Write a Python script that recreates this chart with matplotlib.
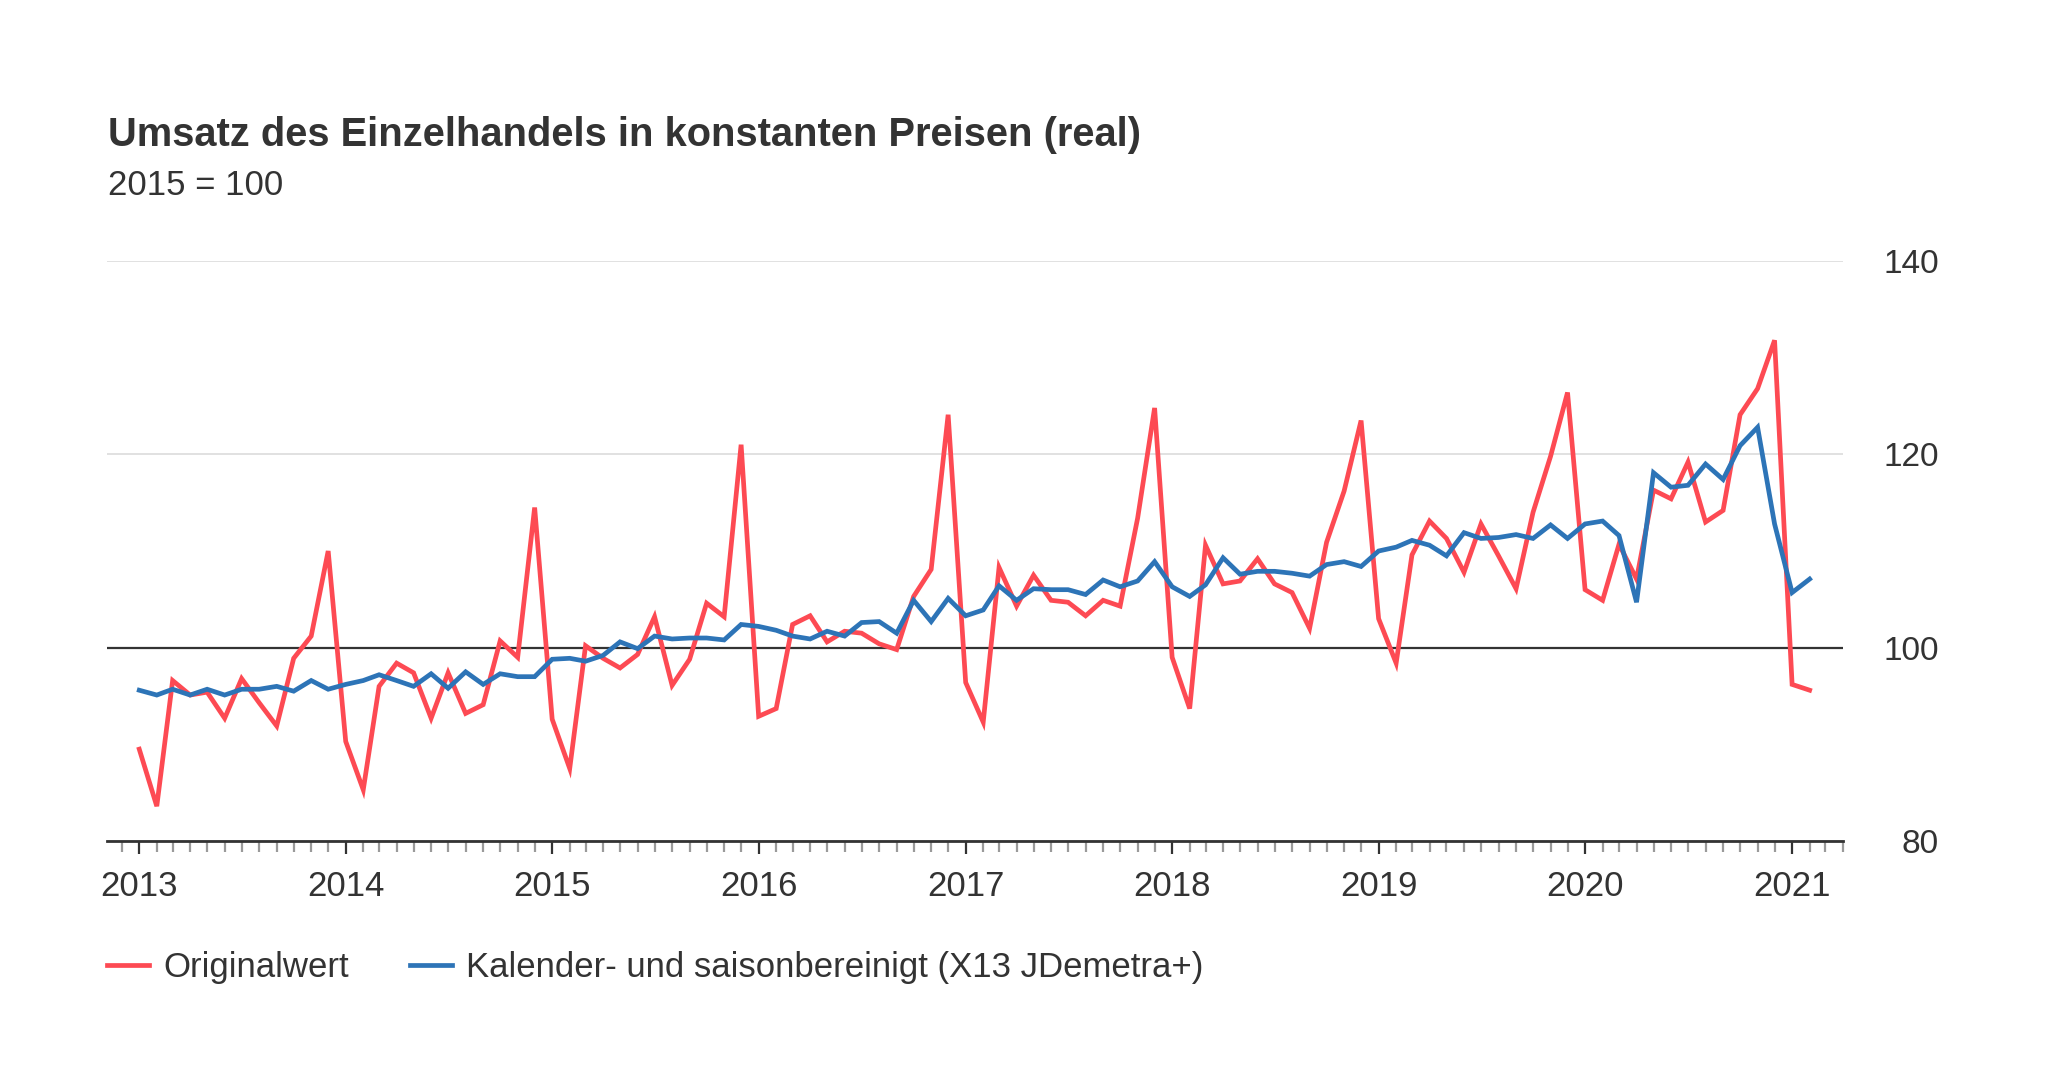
import numpy as np
import pandas as pd
import matplotlib
matplotlib.use('Agg')
import matplotlib.pyplot as plt
import matplotlib.dates as mdates

plt.rcParams['font.family'] = ['Liberation Sans', 'DejaVu Sans']

# monthly values, Jan 2013 - Feb 2021 (2015 = 100)
months = pd.date_range('2013-01-01', '2021-02-01', freq='MS')

original = [
    89.5, 83.6, 96.6, 95.1, 95.4, 92.7, 96.8, 94.3, 91.9, 98.9, 101.2, 110.0,
    90.3, 85.3, 96.0, 98.4, 97.4, 92.7, 97.4, 93.2, 94.1, 100.7, 99.0, 114.5,
    92.6, 87.5, 100.2, 98.9, 97.9, 99.3, 103.2, 96.1, 98.8, 104.6, 103.2, 121.0,
    92.9, 93.7, 102.4, 103.3, 100.6, 101.7, 101.5, 100.4, 99.8, 105.3, 108.1, 124.1,
    96.4, 92.3, 108.3, 104.3, 107.5, 104.9, 104.7, 103.3, 104.9, 104.3, 113.4, 124.8,
    99.0, 93.7, 110.6, 106.6, 106.9, 109.2, 106.6, 105.7, 102.0, 110.9, 116.2, 123.5,
    103.0, 98.4, 109.6, 113.1, 111.3, 107.8, 112.8, 109.5, 106.1, 114.0, 119.8, 126.4,
    106.0, 104.9, 110.7, 107.1, 116.3, 115.4, 119.2, 113.0, 114.2, 124.1, 126.8, 131.8,
    96.2, 95.6,
]

adjusted = [
    95.6, 95.1, 95.7, 95.1, 95.7, 95.1, 95.7, 95.7, 96.0, 95.5, 96.6, 95.7,
    96.2, 96.6, 97.2, 96.6, 96.0, 97.3, 95.8, 97.5, 96.2, 97.3, 97.0, 97.0,
    98.8, 98.9, 98.6, 99.2, 100.6, 99.9, 101.2, 100.9, 101.0, 101.0, 100.8, 102.4,
    102.2, 101.8, 101.2, 100.9, 101.7, 101.2, 102.6, 102.7, 101.5, 104.9, 102.7, 105.1,
    103.3, 103.9, 106.4, 104.9, 106.1, 106.0, 106.0, 105.5, 107.0, 106.3, 106.9, 108.9,
    106.3, 105.3, 106.5, 109.3, 107.6, 107.9, 107.9, 107.7, 107.4, 108.6, 108.9, 108.4,
    110.0, 110.4, 111.1, 110.6, 109.5, 111.9, 111.3, 111.4, 111.7, 111.3, 112.7, 111.3,
    112.8, 113.1, 111.6, 104.7, 118.1, 116.6, 116.8, 119.0, 117.4, 120.9, 122.8, 112.8,
    105.7, 107.1,
]

yticks = [80, 100, 120, 140]

red = '#fd4a53'
blue = '#2d74b7'
txt = '#333333'

fig = plt.figure(figsize=(20.48, 10.8), dpi=100)
ax = fig.add_axes([0.05225, 0.2213, 0.84766, 0.537])

ax.plot(months, original, color=red, lw=3.4, solid_joinstyle='miter', label='Originalwert')
ax.plot(months, adjusted, color=blue, lw=3.4, solid_joinstyle='miter',
        label='Kalender- und saisonbereinigt (X13 JDemetra+)')
ax.axhline(100, color=txt, lw=1.6, zorder=1)

ax.set_ylim(80, 140)
ax.set_xlim(pd.Timestamp('2012-11-05'), pd.Timestamp('2021-04-01'))
ax.set_yticks(yticks)
ax.yaxis.grid(True, color='#d9d9d9', lw=1.1)
ax.set_axisbelow(True)

for s in ['top', 'left', 'right']:
    ax.spines[s].set_visible(False)
ax.spines['bottom'].set_color(txt)
ax.spines['bottom'].set_linewidth(2)
ax.spines['bottom'].set_zorder(3)

ax.yaxis.tick_right()
ax.tick_params(axis='y', length=0, pad=69, labelsize=24, labelcolor=txt)
plt.setp(ax.get_yticklabels(), ha='right')

ax.xaxis.set_major_locator(mdates.YearLocator())
ax.xaxis.set_major_formatter(mdates.DateFormatter('%Y'))
ax.xaxis.set_minor_locator(mdates.MonthLocator())
ax.tick_params(axis='x', which='major', length=9.5, width=1.6, color=txt,
               labelsize=25, labelcolor=txt, pad=11.5)
ax.tick_params(axis='x', which='minor', length=8, width=1.6, color='#9a9a9a')

fig.text(0.0525, 1 - 146 / 1080, 'Umsatz des Einzelhandels in konstanten Preisen (real)',
         fontsize=28.7, fontweight='bold', color=txt, va='baseline', ha='left')
fig.text(0.0525, 1 - 195 / 1080, '2015 = 100', fontsize=25, color=txt,
         va='baseline', ha='left')

leg = fig.legend(loc='center left', bbox_to_anchor=(0.0522, 1 - 968 / 1080), ncol=2,
                 frameon=False, fontsize=25, handlelength=1.22, handletextpad=0.4,
                 columnspacing=1.76, borderpad=0, borderaxespad=0)
for t in leg.get_texts():
    t.set_color(txt)

fig.savefig('out.png', dpi=100, facecolor='white')
